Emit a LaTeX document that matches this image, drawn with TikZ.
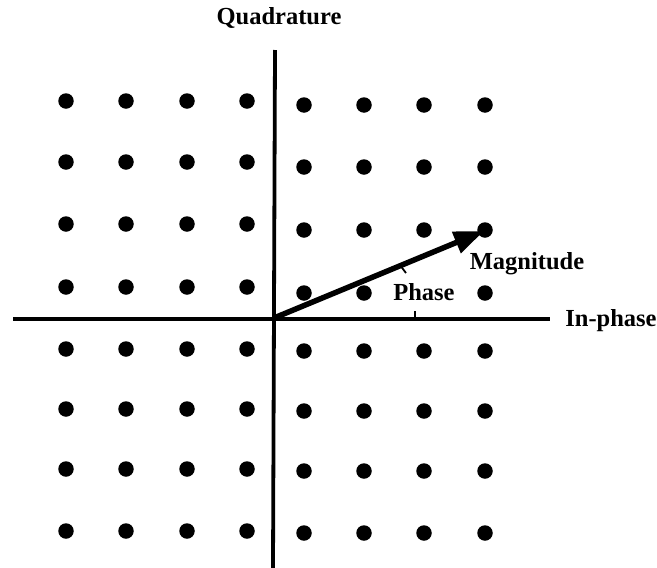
\documentclass[tikz,border=0pt]{standalone}
\usepackage{fontspec}
\setmainfont{Liberation Serif}
\usetikzlibrary{arrows.meta}
\begin{document}
\begin{tikzpicture}[x=1pt,y=-1pt,
  dot/.style={circle,fill=black,inner sep=0pt,minimum size=15.5pt},
  axis/.style={line width=3.8pt},
  lbl/.style={font=\fontsize{24.5}{24.5}\selectfont\bfseries,inner sep=0pt},
  vec/.style={line width=5.5pt,-{Triangle[length=30pt,width=22pt]}},
  tick/.style={line width=1.8pt}]
\useasboundingbox (0,0) rectangle (657,568);
% dots
\foreach \x [count=\i] in {66,126,187,247}{
  \foreach \y [count=\j] in {101,162,224,287,349,409,469,531}{
    \node[dot] (L\i\j) at (\x,\y) {};
  }}
\foreach \x [count=\i] in {304,364,424,485}{
  \foreach \y [count=\j] in {105,167,230,293,351,411,471,533}{
    \ifnum\i\j=34\relax\else
    \node[dot] (R\i\j) at (\x,\y) {};
    \fi
  }}
% axes
\coordinate (O) at (274,318);
\coordinate (xl) at (13,319);
\coordinate (xr) at (550,319);
\coordinate (yt) at (275,50);
\coordinate (yb) at (273,568);
\draw[axis] (xl) -- (xr);
\draw[axis] (yt) -- (yb);
% vector
\coordinate (tip) at (484,231);
\draw[vec] (O) -- (tip);
% phase ticks
\coordinate (t1a) at (400,265);
\coordinate (t1b) at (406,273);
\draw[tick] (t1a) -- (t1b);
\coordinate (t2a) at (415,311);
\coordinate (t2b) at (415,318);
\draw[tick] (t2a) -- (t2b);
% labels
\node[lbl] (quad) at (279,18) {Quadrature};
\node[lbl] (inph) at (611,321) {In-phase};
\node[lbl] (mag) at (527,264) {Magnitude};
\node[lbl] (ph) at (424,292) {Phase};
\end{tikzpicture}
\end{document}
